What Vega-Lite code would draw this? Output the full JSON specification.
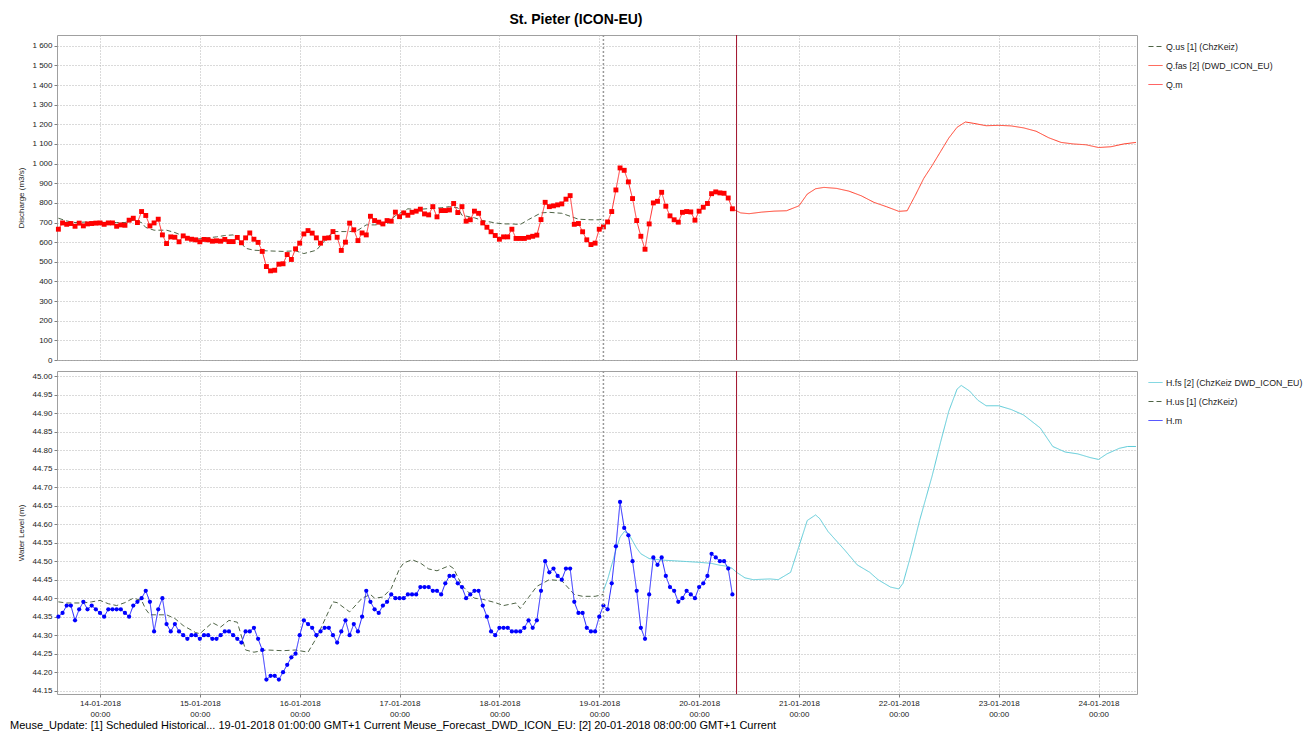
{
"$schema": "https://vega.github.io/schema/vega-lite/v6.json",
"padding": {"left": 9, "top": 12, "right": 0, "bottom": 0},
"config": {
  "font": "Liberation Sans",
  "view": {"stroke": "#a0a0a0", "strokeWidth": 1},
  "axis": {"labelFont": "Liberation Sans", "labelFontSize": 8, "labelColor": "#222222", "titleFont": "Liberation Sans", "titleFontSize": 8, "titleFontWeight": "normal", "titleColor": "#222222", "gridColor": "#b4b4b4", "gridDash": [1, 2], "tickColor": "#808080", "tickSize": 3, "domain": false, "labelPadding": 2, "labelOverlap": false},
  "legend": {"orient": "right", "offset": 6, "padding": 4, "symbolType": "stroke", "symbolSize": 196, "symbolStrokeWidth": 1, "labelFontSize": 8.8, "labelFont": "Liberation Sans", "labelColor": "#222222", "rowPadding": 6, "labelOffset": 3},
  "concat": {"spacing": 4}
},
"datasets": {
"q": [
{"t":"2018-01-13T14:00","s":"us","v":722},{"t":"2018-01-13T16:00","s":"us","v":708},{"t":"2018-01-13T18:00","s":"us","v":700},{"t":"2018-01-13T21:00","s":"us","v":703},{"t":"2018-01-14T00:00","s":"us","v":703},{"t":"2018-01-14T04:00","s":"us","v":700},{"t":"2018-01-14T06:00","s":"us","v":700},{"t":"2018-01-14T08:00","s":"us","v":712},{"t":"2018-01-14T10:00","s":"us","v":700},{"t":"2018-01-14T11:00","s":"us","v":675},{"t":"2018-01-14T13:00","s":"us","v":661},{"t":"2018-01-14T16:00","s":"us","v":661},{"t":"2018-01-14T18:00","s":"us","v":649},{"t":"2018-01-14T20:00","s":"us","v":632},{"t":"2018-01-14T23:00","s":"us","v":615},{"t":"2018-01-15T01:00","s":"us","v":620},{"t":"2018-01-15T04:00","s":"us","v":627},{"t":"2018-01-15T06:00","s":"us","v":634},{"t":"2018-01-15T08:00","s":"us","v":637},{"t":"2018-01-15T09:00","s":"us","v":620},{"t":"2018-01-15T11:00","s":"us","v":569},{"t":"2018-01-15T13:00","s":"us","v":559},{"t":"2018-01-15T16:00","s":"us","v":556},{"t":"2018-01-15T20:00","s":"us","v":553},{"t":"2018-01-15T23:00","s":"us","v":556},{"t":"2018-01-16T01:00","s":"us","v":542},{"t":"2018-01-16T04:00","s":"us","v":559},{"t":"2018-01-16T06:00","s":"us","v":607},{"t":"2018-01-16T08:00","s":"us","v":654},{"t":"2018-01-16T12:00","s":"us","v":654},{"t":"2018-01-16T14:00","s":"us","v":661},{"t":"2018-01-16T16:00","s":"us","v":688},{"t":"2018-01-16T18:00","s":"us","v":688},{"t":"2018-01-16T21:00","s":"us","v":691},{"t":"2018-01-16T23:00","s":"us","v":735},{"t":"2018-01-17T02:00","s":"us","v":770},{"t":"2018-01-17T04:00","s":"us","v":766},{"t":"2018-01-17T07:00","s":"us","v":771},{"t":"2018-01-17T10:00","s":"us","v":775},{"t":"2018-01-17T12:00","s":"us","v":781},{"t":"2018-01-17T14:00","s":"us","v":775},{"t":"2018-01-17T15:00","s":"us","v":737},{"t":"2018-01-17T18:00","s":"us","v":724},{"t":"2018-01-17T20:00","s":"us","v":710},{"t":"2018-01-17T23:00","s":"us","v":698},{"t":"2018-01-18T01:00","s":"us","v":693},{"t":"2018-01-18T03:00","s":"us","v":693},{"t":"2018-01-18T05:00","s":"us","v":690},{"t":"2018-01-18T07:00","s":"us","v":715},{"t":"2018-01-18T10:00","s":"us","v":749},{"t":"2018-01-18T12:00","s":"us","v":752},{"t":"2018-01-18T15:00","s":"us","v":747},{"t":"2018-01-18T17:00","s":"us","v":732},{"t":"2018-01-18T19:00","s":"us","v":717},{"t":"2018-01-18T22:00","s":"us","v":714},{"t":"2018-01-19T00:00","s":"us","v":714},{"t":"2018-01-19T01:00","s":"us","v":720},
{"t":"2018-01-20T08:00","s":"fas","v":770},{"t":"2018-01-20T10:00","s":"fas","v":749},{"t":"2018-01-20T12:00","s":"fas","v":745},{"t":"2018-01-20T15:00","s":"fas","v":753},{"t":"2018-01-20T18:00","s":"fas","v":758},{"t":"2018-01-20T21:00","s":"fas","v":760},{"t":"2018-01-21T00:00","s":"fas","v":785},{"t":"2018-01-21T02:00","s":"fas","v":845},{"t":"2018-01-21T04:00","s":"fas","v":872},{"t":"2018-01-21T06:00","s":"fas","v":879},{"t":"2018-01-21T09:00","s":"fas","v":874},{"t":"2018-01-21T12:00","s":"fas","v":860},{"t":"2018-01-21T15:00","s":"fas","v":836},{"t":"2018-01-21T18:00","s":"fas","v":803},{"t":"2018-01-21T21:00","s":"fas","v":781},{"t":"2018-01-22T00:00","s":"fas","v":757},{"t":"2018-01-22T02:00","s":"fas","v":760},{"t":"2018-01-22T04:00","s":"fas","v":840},{"t":"2018-01-22T06:00","s":"fas","v":925},{"t":"2018-01-22T08:00","s":"fas","v":990},{"t":"2018-01-22T10:00","s":"fas","v":1060},{"t":"2018-01-22T12:00","s":"fas","v":1130},{"t":"2018-01-22T14:00","s":"fas","v":1185},{"t":"2018-01-22T16:00","s":"fas","v":1212},{"t":"2018-01-22T18:00","s":"fas","v":1205},{"t":"2018-01-22T21:00","s":"fas","v":1193},{"t":"2018-01-23T00:00","s":"fas","v":1195},{"t":"2018-01-23T03:00","s":"fas","v":1192},{"t":"2018-01-23T06:00","s":"fas","v":1182},{"t":"2018-01-23T09:00","s":"fas","v":1165},{"t":"2018-01-23T12:00","s":"fas","v":1132},{"t":"2018-01-23T15:00","s":"fas","v":1108},{"t":"2018-01-23T18:00","s":"fas","v":1100},{"t":"2018-01-23T21:00","s":"fas","v":1096},{"t":"2018-01-24T00:00","s":"fas","v":1082},{"t":"2018-01-24T03:00","s":"fas","v":1086},{"t":"2018-01-24T06:00","s":"fas","v":1100},{"t":"2018-01-24T09:00","s":"fas","v":1108},
{"t":"2018-01-13T14:00","s":"m","v":666},{"t":"2018-01-13T15:00","s":"m","v":698},{"t":"2018-01-13T16:00","s":"m","v":691},{"t":"2018-01-13T17:00","s":"m","v":695},{"t":"2018-01-13T18:00","s":"m","v":681},{"t":"2018-01-13T19:00","s":"m","v":697},{"t":"2018-01-13T20:00","s":"m","v":683},{"t":"2018-01-13T21:00","s":"m","v":693},{"t":"2018-01-13T22:00","s":"m","v":695},{"t":"2018-01-13T23:00","s":"m","v":697},
{"t":"2018-01-14T00:00","s":"m","v":698},{"t":"2018-01-14T01:00","s":"m","v":691},{"t":"2018-01-14T02:00","s":"m","v":698},{"t":"2018-01-14T03:00","s":"m","v":698},{"t":"2018-01-14T04:00","s":"m","v":681},{"t":"2018-01-14T05:00","s":"m","v":688},{"t":"2018-01-14T06:00","s":"m","v":686},{"t":"2018-01-14T07:00","s":"m","v":712},{"t":"2018-01-14T08:00","s":"m","v":722},{"t":"2018-01-14T09:00","s":"m","v":700},{"t":"2018-01-14T10:00","s":"m","v":756},{"t":"2018-01-14T11:00","s":"m","v":736},{"t":"2018-01-14T12:00","s":"m","v":683},{"t":"2018-01-14T13:00","s":"m","v":698},{"t":"2018-01-14T14:00","s":"m","v":717},{"t":"2018-01-14T15:00","s":"m","v":637},{"t":"2018-01-14T16:00","s":"m","v":593},{"t":"2018-01-14T17:00","s":"m","v":627},{"t":"2018-01-14T18:00","s":"m","v":625},{"t":"2018-01-14T19:00","s":"m","v":602},{"t":"2018-01-14T20:00","s":"m","v":632},{"t":"2018-01-14T21:00","s":"m","v":620},{"t":"2018-01-14T22:00","s":"m","v":615},{"t":"2018-01-14T23:00","s":"m","v":612},
{"t":"2018-01-15T00:00","s":"m","v":602},{"t":"2018-01-15T01:00","s":"m","v":614},{"t":"2018-01-15T02:00","s":"m","v":612},{"t":"2018-01-15T03:00","s":"m","v":605},{"t":"2018-01-15T04:00","s":"m","v":607},{"t":"2018-01-15T05:00","s":"m","v":605},{"t":"2018-01-15T06:00","s":"m","v":614},{"t":"2018-01-15T07:00","s":"m","v":603},{"t":"2018-01-15T08:00","s":"m","v":603},{"t":"2018-01-15T09:00","s":"m","v":624},{"t":"2018-01-15T10:00","s":"m","v":597},{"t":"2018-01-15T11:00","s":"m","v":622},{"t":"2018-01-15T12:00","s":"m","v":647},{"t":"2018-01-15T13:00","s":"m","v":615},{"t":"2018-01-15T14:00","s":"m","v":599},{"t":"2018-01-15T15:00","s":"m","v":553},{"t":"2018-01-15T16:00","s":"m","v":476},{"t":"2018-01-15T17:00","s":"m","v":454},{"t":"2018-01-15T18:00","s":"m","v":457},{"t":"2018-01-15T19:00","s":"m","v":488},{"t":"2018-01-15T20:00","s":"m","v":490},{"t":"2018-01-15T21:00","s":"m","v":537},{"t":"2018-01-15T22:00","s":"m","v":512},{"t":"2018-01-15T23:00","s":"m","v":566},
{"t":"2018-01-16T00:00","s":"m","v":595},{"t":"2018-01-16T01:00","s":"m","v":642},{"t":"2018-01-16T02:00","s":"m","v":659},{"t":"2018-01-16T03:00","s":"m","v":646},{"t":"2018-01-16T04:00","s":"m","v":622},{"t":"2018-01-16T05:00","s":"m","v":595},{"t":"2018-01-16T06:00","s":"m","v":620},{"t":"2018-01-16T07:00","s":"m","v":622},{"t":"2018-01-16T08:00","s":"m","v":654},{"t":"2018-01-16T09:00","s":"m","v":625},{"t":"2018-01-16T10:00","s":"m","v":558},{"t":"2018-01-16T11:00","s":"m","v":600},{"t":"2018-01-16T12:00","s":"m","v":697},{"t":"2018-01-16T13:00","s":"m","v":663},{"t":"2018-01-16T14:00","s":"m","v":608},{"t":"2018-01-16T15:00","s":"m","v":647},{"t":"2018-01-16T16:00","s":"m","v":637},{"t":"2018-01-16T17:00","s":"m","v":732},{"t":"2018-01-16T18:00","s":"m","v":710},{"t":"2018-01-16T19:00","s":"m","v":702},{"t":"2018-01-16T20:00","s":"m","v":693},{"t":"2018-01-16T21:00","s":"m","v":710},{"t":"2018-01-16T22:00","s":"m","v":707},{"t":"2018-01-16T23:00","s":"m","v":753},
{"t":"2018-01-17T00:00","s":"m","v":730},{"t":"2018-01-17T01:00","s":"m","v":749},{"t":"2018-01-17T02:00","s":"m","v":737},{"t":"2018-01-17T03:00","s":"m","v":752},{"t":"2018-01-17T04:00","s":"m","v":758},{"t":"2018-01-17T05:00","s":"m","v":768},{"t":"2018-01-17T06:00","s":"m","v":744},{"t":"2018-01-17T07:00","s":"m","v":739},{"t":"2018-01-17T08:00","s":"m","v":781},{"t":"2018-01-17T09:00","s":"m","v":729},{"t":"2018-01-17T10:00","s":"m","v":761},{"t":"2018-01-17T11:00","s":"m","v":761},{"t":"2018-01-17T12:00","s":"m","v":764},{"t":"2018-01-17T13:00","s":"m","v":797},{"t":"2018-01-17T14:00","s":"m","v":751},{"t":"2018-01-17T15:00","s":"m","v":781},{"t":"2018-01-17T16:00","s":"m","v":707},{"t":"2018-01-17T17:00","s":"m","v":714},{"t":"2018-01-17T18:00","s":"m","v":758},{"t":"2018-01-17T19:00","s":"m","v":747},{"t":"2018-01-17T20:00","s":"m","v":698},{"t":"2018-01-17T21:00","s":"m","v":676},{"t":"2018-01-17T22:00","s":"m","v":653},{"t":"2018-01-17T23:00","s":"m","v":634},
{"t":"2018-01-18T00:00","s":"m","v":615},{"t":"2018-01-18T01:00","s":"m","v":627},{"t":"2018-01-18T02:00","s":"m","v":627},{"t":"2018-01-18T03:00","s":"m","v":666},{"t":"2018-01-18T04:00","s":"m","v":619},{"t":"2018-01-18T05:00","s":"m","v":619},{"t":"2018-01-18T06:00","s":"m","v":619},{"t":"2018-01-18T07:00","s":"m","v":625},{"t":"2018-01-18T08:00","s":"m","v":630},{"t":"2018-01-18T09:00","s":"m","v":636},{"t":"2018-01-18T10:00","s":"m","v":715},{"t":"2018-01-18T11:00","s":"m","v":803},{"t":"2018-01-18T12:00","s":"m","v":781},{"t":"2018-01-18T13:00","s":"m","v":785},{"t":"2018-01-18T14:00","s":"m","v":790},{"t":"2018-01-18T15:00","s":"m","v":795},{"t":"2018-01-18T16:00","s":"m","v":819},{"t":"2018-01-18T17:00","s":"m","v":837},{"t":"2018-01-18T18:00","s":"m","v":691},{"t":"2018-01-18T19:00","s":"m","v":695},{"t":"2018-01-18T20:00","s":"m","v":653},{"t":"2018-01-18T21:00","s":"m","v":612},{"t":"2018-01-18T22:00","s":"m","v":588},{"t":"2018-01-18T23:00","s":"m","v":595},
{"t":"2018-01-19T00:00","s":"m","v":666},{"t":"2018-01-19T01:00","s":"m","v":678},{"t":"2018-01-19T02:00","s":"m","v":703},{"t":"2018-01-19T03:00","s":"m","v":756},{"t":"2018-01-19T04:00","s":"m","v":866},{"t":"2018-01-19T05:00","s":"m","v":978},{"t":"2018-01-19T06:00","s":"m","v":966},{"t":"2018-01-19T07:00","s":"m","v":907},{"t":"2018-01-19T08:00","s":"m","v":822},{"t":"2018-01-19T09:00","s":"m","v":710},{"t":"2018-01-19T10:00","s":"m","v":630},{"t":"2018-01-19T11:00","s":"m","v":564},{"t":"2018-01-19T12:00","s":"m","v":693},{"t":"2018-01-19T13:00","s":"m","v":800},{"t":"2018-01-19T14:00","s":"m","v":808},{"t":"2018-01-19T15:00","s":"m","v":854},{"t":"2018-01-19T16:00","s":"m","v":783},{"t":"2018-01-19T17:00","s":"m","v":734},{"t":"2018-01-19T18:00","s":"m","v":714},{"t":"2018-01-19T19:00","s":"m","v":702},{"t":"2018-01-19T20:00","s":"m","v":752},{"t":"2018-01-19T21:00","s":"m","v":756},{"t":"2018-01-19T22:00","s":"m","v":754},{"t":"2018-01-19T23:00","s":"m","v":712},
{"t":"2018-01-20T00:00","s":"m","v":758},{"t":"2018-01-20T01:00","s":"m","v":778},{"t":"2018-01-20T02:00","s":"m","v":797},{"t":"2018-01-20T03:00","s":"m","v":847},{"t":"2018-01-20T04:00","s":"m","v":856},{"t":"2018-01-20T05:00","s":"m","v":851},{"t":"2018-01-20T06:00","s":"m","v":849},{"t":"2018-01-20T07:00","s":"m","v":825},{"t":"2018-01-20T08:00","s":"m","v":770}
],
"h": [
{"t":"2018-01-19T01:00","s":"fs","v":44.42},{"t":"2018-01-19T02:00","s":"fs","v":44.45},{"t":"2018-01-19T03:00","s":"fs","v":44.49},{"t":"2018-01-19T04:00","s":"fs","v":44.53},{"t":"2018-01-19T05:00","s":"fs","v":44.565},{"t":"2018-01-19T06:00","s":"fs","v":44.58},{"t":"2018-01-19T07:00","s":"fs","v":44.575},{"t":"2018-01-19T08:00","s":"fs","v":44.555},{"t":"2018-01-19T09:00","s":"fs","v":44.535},{"t":"2018-01-19T10:00","s":"fs","v":44.52},{"t":"2018-01-19T12:00","s":"fs","v":44.507},{"t":"2018-01-19T15:00","s":"fs","v":44.503},{"t":"2018-01-19T18:00","s":"fs","v":44.501},{"t":"2018-01-19T21:00","s":"fs","v":44.499},{"t":"2018-01-20T00:00","s":"fs","v":44.497},{"t":"2018-01-20T03:00","s":"fs","v":44.494},{"t":"2018-01-20T05:00","s":"fs","v":44.489},{"t":"2018-01-20T07:00","s":"fs","v":44.486},{"t":"2018-01-20T08:00","s":"fs","v":44.48},{"t":"2018-01-20T09:00","s":"fs","v":44.47},{"t":"2018-01-20T11:00","s":"fs","v":44.455},{"t":"2018-01-20T13:00","s":"fs","v":44.45},{"t":"2018-01-20T17:00","s":"fs","v":44.452},{"t":"2018-01-20T19:00","s":"fs","v":44.45},{"t":"2018-01-20T22:00","s":"fs","v":44.47},{"t":"2018-01-21T00:00","s":"fs","v":44.54},{"t":"2018-01-21T02:00","s":"fs","v":44.61},{"t":"2018-01-21T04:00","s":"fs","v":44.625},{"t":"2018-01-21T05:00","s":"fs","v":44.615},{"t":"2018-01-21T07:00","s":"fs","v":44.58},{"t":"2018-01-21T11:00","s":"fs","v":44.53},{"t":"2018-01-21T14:00","s":"fs","v":44.49},{"t":"2018-01-21T17:00","s":"fs","v":44.47},{"t":"2018-01-21T19:00","s":"fs","v":44.45},{"t":"2018-01-21T22:00","s":"fs","v":44.43},{"t":"2018-01-22T00:00","s":"fs","v":44.425},{"t":"2018-01-22T01:00","s":"fs","v":44.44},{"t":"2018-01-22T03:00","s":"fs","v":44.52},{"t":"2018-01-22T05:00","s":"fs","v":44.61},{"t":"2018-01-22T08:00","s":"fs","v":44.73},{"t":"2018-01-22T10:00","s":"fs","v":44.82},{"t":"2018-01-22T12:00","s":"fs","v":44.905},{"t":"2018-01-22T14:00","s":"fs","v":44.965},{"t":"2018-01-22T15:00","s":"fs","v":44.975},{"t":"2018-01-22T17:00","s":"fs","v":44.96},{"t":"2018-01-22T19:00","s":"fs","v":44.935},{"t":"2018-01-22T21:00","s":"fs","v":44.92},{"t":"2018-01-23T00:00","s":"fs","v":44.92},{"t":"2018-01-23T03:00","s":"fs","v":44.91},{"t":"2018-01-23T06:00","s":"fs","v":44.895},{"t":"2018-01-23T10:00","s":"fs","v":44.86},{"t":"2018-01-23T13:00","s":"fs","v":44.81},{"t":"2018-01-23T16:00","s":"fs","v":44.795},{"t":"2018-01-23T19:00","s":"fs","v":44.79},{"t":"2018-01-23T22:00","s":"fs","v":44.78},{"t":"2018-01-24T00:00","s":"fs","v":44.775},{"t":"2018-01-24T02:00","s":"fs","v":44.79},{"t":"2018-01-24T05:00","s":"fs","v":44.805},{"t":"2018-01-24T07:00","s":"fs","v":44.81},{"t":"2018-01-24T09:00","s":"fs","v":44.81},
{"t":"2018-01-13T14:00","s":"us","v":44.39},{"t":"2018-01-13T16:00","s":"us","v":44.387},{"t":"2018-01-13T20:00","s":"us","v":44.387},{"t":"2018-01-13T22:00","s":"us","v":44.39},{"t":"2018-01-14T00:00","s":"us","v":44.394},{"t":"2018-01-14T02:00","s":"us","v":44.385},{"t":"2018-01-14T04:00","s":"us","v":44.38},{"t":"2018-01-14T06:00","s":"us","v":44.388},{"t":"2018-01-14T08:00","s":"us","v":44.40},{"t":"2018-01-14T10:00","s":"us","v":44.394},{"t":"2018-01-14T11:00","s":"us","v":44.37},{"t":"2018-01-14T12:00","s":"us","v":44.355},{"t":"2018-01-14T16:00","s":"us","v":44.355},{"t":"2018-01-14T18:00","s":"us","v":44.345},{"t":"2018-01-14T20:00","s":"us","v":44.326},{"t":"2018-01-14T23:00","s":"us","v":44.307},{"t":"2018-01-15T00:00","s":"us","v":44.304},{"t":"2018-01-15T03:00","s":"us","v":44.334},{"t":"2018-01-15T05:00","s":"us","v":44.322},{"t":"2018-01-15T07:00","s":"us","v":44.34},{"t":"2018-01-15T09:00","s":"us","v":44.335},{"t":"2018-01-15T11:00","s":"us","v":44.26},{"t":"2018-01-15T13:00","s":"us","v":44.254},{"t":"2018-01-15T16:00","s":"us","v":44.26},{"t":"2018-01-15T20:00","s":"us","v":44.258},{"t":"2018-01-15T23:00","s":"us","v":44.26},{"t":"2018-01-16T02:00","s":"us","v":44.254},{"t":"2018-01-16T04:00","s":"us","v":44.292},{"t":"2018-01-16T08:00","s":"us","v":44.39},{"t":"2018-01-16T09:00","s":"us","v":44.388},{"t":"2018-01-16T12:00","s":"us","v":44.363},{"t":"2018-01-16T15:00","s":"us","v":44.40},{"t":"2018-01-16T17:00","s":"us","v":44.41},{"t":"2018-01-16T18:00","s":"us","v":44.40},{"t":"2018-01-16T20:00","s":"us","v":44.403},{"t":"2018-01-16T22:00","s":"us","v":44.426},{"t":"2018-01-17T00:00","s":"us","v":44.48},{"t":"2018-01-17T01:00","s":"us","v":44.495},{"t":"2018-01-17T03:00","s":"us","v":44.504},{"t":"2018-01-17T05:00","s":"us","v":44.495},{"t":"2018-01-17T07:00","s":"us","v":44.479},{"t":"2018-01-17T09:00","s":"us","v":44.474},{"t":"2018-01-17T12:00","s":"us","v":44.488},{"t":"2018-01-17T13:00","s":"us","v":44.48},{"t":"2018-01-17T15:00","s":"us","v":44.434},{"t":"2018-01-17T18:00","s":"us","v":44.40},{"t":"2018-01-17T20:00","s":"us","v":44.397},{"t":"2018-01-17T23:00","s":"us","v":44.388},{"t":"2018-01-18T01:00","s":"us","v":44.38},{"t":"2018-01-18T04:00","s":"us","v":44.387},{"t":"2018-01-18T05:00","s":"us","v":44.372},{"t":"2018-01-18T07:00","s":"us","v":44.402},{"t":"2018-01-18T09:00","s":"us","v":44.432},{"t":"2018-01-18T12:00","s":"us","v":44.45},{"t":"2018-01-18T15:00","s":"us","v":44.447},{"t":"2018-01-18T18:00","s":"us","v":44.41},{"t":"2018-01-18T20:00","s":"us","v":44.405},{"t":"2018-01-18T23:00","s":"us","v":44.405},{"t":"2018-01-19T01:00","s":"us","v":44.41},
{"t":"2018-01-13T14:00","s":"m","v":44.35},{"t":"2018-01-13T15:00","s":"m","v":44.36},{"t":"2018-01-13T16:00","s":"m","v":44.38},{"t":"2018-01-13T17:00","s":"m","v":44.38},{"t":"2018-01-13T18:00","s":"m","v":44.34},{"t":"2018-01-13T19:00","s":"m","v":44.37},{"t":"2018-01-13T20:00","s":"m","v":44.39},{"t":"2018-01-13T21:00","s":"m","v":44.37},{"t":"2018-01-13T22:00","s":"m","v":44.38},{"t":"2018-01-13T23:00","s":"m","v":44.37},
{"t":"2018-01-14T00:00","s":"m","v":44.36},{"t":"2018-01-14T01:00","s":"m","v":44.35},{"t":"2018-01-14T02:00","s":"m","v":44.37},{"t":"2018-01-14T03:00","s":"m","v":44.37},{"t":"2018-01-14T04:00","s":"m","v":44.37},{"t":"2018-01-14T05:00","s":"m","v":44.37},{"t":"2018-01-14T06:00","s":"m","v":44.36},{"t":"2018-01-14T07:00","s":"m","v":44.35},{"t":"2018-01-14T08:00","s":"m","v":44.38},{"t":"2018-01-14T09:00","s":"m","v":44.39},{"t":"2018-01-14T10:00","s":"m","v":44.40},{"t":"2018-01-14T11:00","s":"m","v":44.42},{"t":"2018-01-14T12:00","s":"m","v":44.39},{"t":"2018-01-14T13:00","s":"m","v":44.31},{"t":"2018-01-14T14:00","s":"m","v":44.37},{"t":"2018-01-14T15:00","s":"m","v":44.40},{"t":"2018-01-14T16:00","s":"m","v":44.33},{"t":"2018-01-14T17:00","s":"m","v":44.31},{"t":"2018-01-14T18:00","s":"m","v":44.33},{"t":"2018-01-14T19:00","s":"m","v":44.31},{"t":"2018-01-14T20:00","s":"m","v":44.30},{"t":"2018-01-14T21:00","s":"m","v":44.29},{"t":"2018-01-14T22:00","s":"m","v":44.30},{"t":"2018-01-14T23:00","s":"m","v":44.30},
{"t":"2018-01-15T00:00","s":"m","v":44.29},{"t":"2018-01-15T01:00","s":"m","v":44.30},{"t":"2018-01-15T02:00","s":"m","v":44.30},{"t":"2018-01-15T03:00","s":"m","v":44.29},{"t":"2018-01-15T04:00","s":"m","v":44.29},{"t":"2018-01-15T05:00","s":"m","v":44.30},{"t":"2018-01-15T06:00","s":"m","v":44.31},{"t":"2018-01-15T07:00","s":"m","v":44.31},{"t":"2018-01-15T08:00","s":"m","v":44.30},{"t":"2018-01-15T09:00","s":"m","v":44.29},{"t":"2018-01-15T10:00","s":"m","v":44.28},{"t":"2018-01-15T11:00","s":"m","v":44.31},{"t":"2018-01-15T12:00","s":"m","v":44.31},{"t":"2018-01-15T13:00","s":"m","v":44.32},{"t":"2018-01-15T14:00","s":"m","v":44.29},{"t":"2018-01-15T15:00","s":"m","v":44.26},{"t":"2018-01-15T16:00","s":"m","v":44.18},{"t":"2018-01-15T17:00","s":"m","v":44.19},{"t":"2018-01-15T18:00","s":"m","v":44.19},{"t":"2018-01-15T19:00","s":"m","v":44.18},{"t":"2018-01-15T20:00","s":"m","v":44.20},{"t":"2018-01-15T21:00","s":"m","v":44.22},{"t":"2018-01-15T22:00","s":"m","v":44.24},{"t":"2018-01-15T23:00","s":"m","v":44.25},
{"t":"2018-01-16T00:00","s":"m","v":44.30},{"t":"2018-01-16T01:00","s":"m","v":44.34},{"t":"2018-01-16T02:00","s":"m","v":44.33},{"t":"2018-01-16T03:00","s":"m","v":44.32},{"t":"2018-01-16T04:00","s":"m","v":44.30},{"t":"2018-01-16T05:00","s":"m","v":44.31},{"t":"2018-01-16T06:00","s":"m","v":44.32},{"t":"2018-01-16T07:00","s":"m","v":44.32},{"t":"2018-01-16T08:00","s":"m","v":44.30},{"t":"2018-01-16T09:00","s":"m","v":44.28},{"t":"2018-01-16T10:00","s":"m","v":44.31},{"t":"2018-01-16T11:00","s":"m","v":44.34},{"t":"2018-01-16T12:00","s":"m","v":44.30},{"t":"2018-01-16T13:00","s":"m","v":44.33},{"t":"2018-01-16T14:00","s":"m","v":44.31},{"t":"2018-01-16T15:00","s":"m","v":44.35},{"t":"2018-01-16T16:00","s":"m","v":44.42},{"t":"2018-01-16T17:00","s":"m","v":44.39},{"t":"2018-01-16T18:00","s":"m","v":44.37},{"t":"2018-01-16T19:00","s":"m","v":44.36},{"t":"2018-01-16T20:00","s":"m","v":44.38},{"t":"2018-01-16T21:00","s":"m","v":44.39},{"t":"2018-01-16T22:00","s":"m","v":44.41},{"t":"2018-01-16T23:00","s":"m","v":44.40},
{"t":"2018-01-17T00:00","s":"m","v":44.40},{"t":"2018-01-17T01:00","s":"m","v":44.40},{"t":"2018-01-17T02:00","s":"m","v":44.41},{"t":"2018-01-17T03:00","s":"m","v":44.41},{"t":"2018-01-17T04:00","s":"m","v":44.41},{"t":"2018-01-17T05:00","s":"m","v":44.43},{"t":"2018-01-17T06:00","s":"m","v":44.43},{"t":"2018-01-17T07:00","s":"m","v":44.43},{"t":"2018-01-17T08:00","s":"m","v":44.42},{"t":"2018-01-17T09:00","s":"m","v":44.42},{"t":"2018-01-17T10:00","s":"m","v":44.41},{"t":"2018-01-17T11:00","s":"m","v":44.44},{"t":"2018-01-17T12:00","s":"m","v":44.46},{"t":"2018-01-17T13:00","s":"m","v":44.46},{"t":"2018-01-17T14:00","s":"m","v":44.44},{"t":"2018-01-17T15:00","s":"m","v":44.43},{"t":"2018-01-17T16:00","s":"m","v":44.40},{"t":"2018-01-17T17:00","s":"m","v":44.41},{"t":"2018-01-17T18:00","s":"m","v":44.42},{"t":"2018-01-17T19:00","s":"m","v":44.42},{"t":"2018-01-17T20:00","s":"m","v":44.38},{"t":"2018-01-17T21:00","s":"m","v":44.35},{"t":"2018-01-17T22:00","s":"m","v":44.31},{"t":"2018-01-17T23:00","s":"m","v":44.30},
{"t":"2018-01-18T00:00","s":"m","v":44.32},{"t":"2018-01-18T01:00","s":"m","v":44.32},{"t":"2018-01-18T02:00","s":"m","v":44.32},{"t":"2018-01-18T03:00","s":"m","v":44.31},{"t":"2018-01-18T04:00","s":"m","v":44.31},{"t":"2018-01-18T05:00","s":"m","v":44.31},{"t":"2018-01-18T06:00","s":"m","v":44.32},{"t":"2018-01-18T07:00","s":"m","v":44.34},{"t":"2018-01-18T08:00","s":"m","v":44.32},{"t":"2018-01-18T09:00","s":"m","v":44.34},{"t":"2018-01-18T10:00","s":"m","v":44.42},{"t":"2018-01-18T11:00","s":"m","v":44.50},{"t":"2018-01-18T12:00","s":"m","v":44.47},{"t":"2018-01-18T13:00","s":"m","v":44.48},{"t":"2018-01-18T14:00","s":"m","v":44.46},{"t":"2018-01-18T15:00","s":"m","v":44.45},{"t":"2018-01-18T16:00","s":"m","v":44.48},{"t":"2018-01-18T17:00","s":"m","v":44.48},{"t":"2018-01-18T18:00","s":"m","v":44.39},{"t":"2018-01-18T19:00","s":"m","v":44.36},{"t":"2018-01-18T20:00","s":"m","v":44.36},{"t":"2018-01-18T21:00","s":"m","v":44.32},{"t":"2018-01-18T22:00","s":"m","v":44.31},{"t":"2018-01-18T23:00","s":"m","v":44.31},
{"t":"2018-01-19T00:00","s":"m","v":44.35},{"t":"2018-01-19T01:00","s":"m","v":44.38},{"t":"2018-01-19T02:00","s":"m","v":44.37},{"t":"2018-01-19T03:00","s":"m","v":44.44},{"t":"2018-01-19T04:00","s":"m","v":44.54},{"t":"2018-01-19T05:00","s":"m","v":44.66},{"t":"2018-01-19T06:00","s":"m","v":44.59},{"t":"2018-01-19T07:00","s":"m","v":44.57},{"t":"2018-01-19T08:00","s":"m","v":44.50},{"t":"2018-01-19T09:00","s":"m","v":44.42},{"t":"2018-01-19T10:00","s":"m","v":44.32},{"t":"2018-01-19T11:00","s":"m","v":44.29},{"t":"2018-01-19T12:00","s":"m","v":44.41},{"t":"2018-01-19T13:00","s":"m","v":44.51},{"t":"2018-01-19T14:00","s":"m","v":44.49},{"t":"2018-01-19T15:00","s":"m","v":44.51},{"t":"2018-01-19T16:00","s":"m","v":44.46},{"t":"2018-01-19T17:00","s":"m","v":44.43},{"t":"2018-01-19T18:00","s":"m","v":44.42},{"t":"2018-01-19T19:00","s":"m","v":44.39},{"t":"2018-01-19T20:00","s":"m","v":44.40},{"t":"2018-01-19T21:00","s":"m","v":44.42},{"t":"2018-01-19T22:00","s":"m","v":44.41},{"t":"2018-01-19T23:00","s":"m","v":44.40},
{"t":"2018-01-20T00:00","s":"m","v":44.43},{"t":"2018-01-20T01:00","s":"m","v":44.44},{"t":"2018-01-20T02:00","s":"m","v":44.46},{"t":"2018-01-20T03:00","s":"m","v":44.52},{"t":"2018-01-20T04:00","s":"m","v":44.51},{"t":"2018-01-20T05:00","s":"m","v":44.50},{"t":"2018-01-20T06:00","s":"m","v":44.50},{"t":"2018-01-20T07:00","s":"m","v":44.48},{"t":"2018-01-20T08:00","s":"m","v":44.41}
]
},
"resolve": {"scale": {"color": "independent", "strokeDash": "independent"}},
"vconcat": [
{
  "width": 1080, "height": 325,
  "title": {"text": "St. Pieter (ICON-EU)", "font": "Liberation Sans", "fontSize": 14, "fontWeight": "bold", "color": "#000000", "anchor": "middle", "frame": "group", "dx": -21, "offset": 7},
  "layer": [
    {"data": {"name": "q"}, "mark": {"type": "line", "strokeWidth": 1},
     "encoding": {
       "x": {"field": "t", "type": "temporal", "scale": {"domain": [{"year": 2018, "month": 1, "date": 13, "hours": 13, "minutes": 40}, {"year": 2018, "month": 1, "date": 24, "hours": 9, "minutes": 15}]}, "axis": {"title": null, "labels": false, "ticks": false, "tickCount": {"interval": "day", "step": 1}}},
       "y": {"field": "v", "type": "quantitative", "scale": {"domain": [0, 1655], "nice": false}, "axis": {"title": "Discharge (m3/s)", "values": [0,100,200,300,400,500,600,700,800,900,1000,1100,1200,1300,1400,1500,1600], "tickCount": 17, "labelOverlap": false, "labelExpr": "replace(format(datum.value, ','), ',', ' ')", "titlePadding": 6}},
       "color": {"field": "s", "type": "nominal", "scale": {"domain": ["us", "fas", "m"], "range": ["#4f6446", "#ff3c28", "#ff3030"]}, "legend": {"title": null, "labelExpr": "{'us': 'Q.us [1] (ChzKeiz)', 'fas': 'Q.fas [2] (DWD_ICON_EU)', 'm': 'Q.m'}[datum.label]"}},
       "strokeDash": {"field": "s", "type": "nominal", "scale": {"domain": ["us", "fas", "m"], "range": [[5, 3], [1, 0], [1, 0]]}, "legend": {"title": null, "labelExpr": "{'us': 'Q.us [1] (ChzKeiz)', 'fas': 'Q.fas [2] (DWD_ICON_EU)', 'm': 'Q.m'}[datum.label]"}}
     }},
    {"data": {"name": "q"}, "transform": [{"filter": "datum.s == 'm'"}], "mark": {"type": "square", "size": 24, "color": "#ff0000", "opacity": 1},
     "encoding": {"x": {"field": "t", "type": "temporal"},
       "y": {"field": "v", "type": "quantitative", "axis": {"title": "Discharge (m3/s)", "values": [0,100,200,300,400,500,600,700,800,900,1000,1100,1200,1300,1400,1500,1600], "tickCount": 17, "labelOverlap": false, "labelExpr": "replace(format(datum.value, ','), ',', ' ')", "titlePadding": 6}}}},
    {"data": {"values": [{"t": "2018-01-19T01:00"}]}, "mark": {"type": "rule", "stroke": "#999999", "strokeDash": [2, 2], "strokeWidth": 1.5},
     "encoding": {"x": {"field": "t", "type": "temporal"}}},
    {"mark": {"type": "rule", "stroke": "#ff8c1a", "strokeDash": [6, 3], "strokeWidth": 1.3},
     "encoding": {"y": {"datum": 1500, "type": "quantitative", "axis": {"title": "Discharge (m3/s)", "values": [0,100,200,300,400,500,600,700,800,900,1000,1100,1200,1300,1400,1500,1600], "tickCount": 17, "labelOverlap": false, "labelExpr": "replace(format(datum.value, ','), ',', ' ')", "titlePadding": 6}}}},
    {"mark": {"type": "text", "align": "left", "baseline": "bottom", "dy": -1, "fontSize": 7.5, "color": "#333333", "font": "Liberation Sans"},
     "encoding": {"x": {"datum": {"year": 2018, "month": 1, "date": 14, "hours": 0}, "type": "temporal"}, "y": {"datum": 1500, "type": "quantitative"}, "text": {"value": "Warning level Meuse"}}},
    {"data": {"values": [{"t": "2018-01-20T09:00"}]}, "mark": {"type": "rule", "stroke": "#a0102a", "color": "#a0102a", "strokeWidth": 1},
     "encoding": {"x": {"field": "t", "type": "temporal"}}}
  ]
},
{
  "width": 1080, "height": 323,
  "title": {"text": "Meuse_Update: [1] Scheduled Historical... 19-01-2018 01:00:00 GMT+1 Current Meuse_Forecast_DWD_ICON_EU: [2] 20-01-2018 08:00:00 GMT+1 Current", "orient": "bottom", "anchor": "start", "frame": "bounds", "font": "Liberation Sans", "fontSize": 11, "fontWeight": "normal", "color": "#000000", "offset": 2, "dx": -8},
  "layer": [
    {"data": {"name": "h"}, "mark": {"type": "line", "strokeWidth": 1},
     "encoding": {
       "x": {"field": "t", "type": "temporal", "scale": {"domain": [{"year": 2018, "month": 1, "date": 13, "hours": 13, "minutes": 40}, {"year": 2018, "month": 1, "date": 24, "hours": 9, "minutes": 15}]}, "axis": {"title": null, "tickCount": {"interval": "day", "step": 1}, "labelExpr": "[timeFormat(datum.value, '%d-%m-%Y'), timeFormat(datum.value, '%H:%M')]", "labelLineHeight": 11, "labelFlush": false}},
       "y": {"field": "v", "type": "quantitative", "scale": {"domain": [44.141, 45.014], "nice": false, "zero": false}, "axis": {"title": "Water Level (m)", "values": [44.15,44.2,44.25,44.3,44.35,44.4,44.45,44.5,44.55,44.6,44.65,44.7,44.75,44.8,44.85,44.9,44.95,45.0], "tickCount": 18, "labelOverlap": false, "format": ".2f", "titlePadding": 6}},
       "color": {"field": "s", "type": "nominal", "scale": {"domain": ["fs", "us", "m"], "range": ["#5ccbd8", "#4f6446", "#2020ff"]}, "legend": {"title": null, "labelExpr": "{'fs': 'H.fs [2] (ChzKeiz DWD_ICON_EU)', 'us': 'H.us [1] (ChzKeiz)', 'm': 'H.m'}[datum.label]"}},
       "strokeDash": {"field": "s", "type": "nominal", "scale": {"domain": ["fs", "us", "m"], "range": [[1, 0], [5, 3], [1, 0]]}, "legend": {"title": null, "labelExpr": "{'fs': 'H.fs [2] (ChzKeiz DWD_ICON_EU)', 'us': 'H.us [1] (ChzKeiz)', 'm': 'H.m'}[datum.label]"}}
     }},
    {"data": {"name": "h"}, "transform": [{"filter": "datum.s == 'm'"}], "mark": {"type": "circle", "size": 18, "color": "#0000ff", "opacity": 1},
     "encoding": {"x": {"field": "t", "type": "temporal"},
       "y": {"field": "v", "type": "quantitative", "axis": {"title": "Water Level (m)", "values": [44.15,44.2,44.25,44.3,44.35,44.4,44.45,44.5,44.55,44.6,44.65,44.7,44.75,44.8,44.85,44.9,44.95,45.0], "tickCount": 18, "labelOverlap": false, "format": ".2f", "titlePadding": 6}}}},
    {"data": {"values": [{"t": "2018-01-19T01:00"}]}, "mark": {"type": "rule", "stroke": "#999999", "strokeDash": [2, 2], "strokeWidth": 1.5},
     "encoding": {"x": {"field": "t", "type": "temporal"}}},
    {"data": {"values": [{"t": "2018-01-20T09:00"}]}, "mark": {"type": "rule", "stroke": "#a0102a", "color": "#a0102a", "strokeWidth": 1},
     "encoding": {"x": {"field": "t", "type": "temporal"}}}
  ]
}
]
}
